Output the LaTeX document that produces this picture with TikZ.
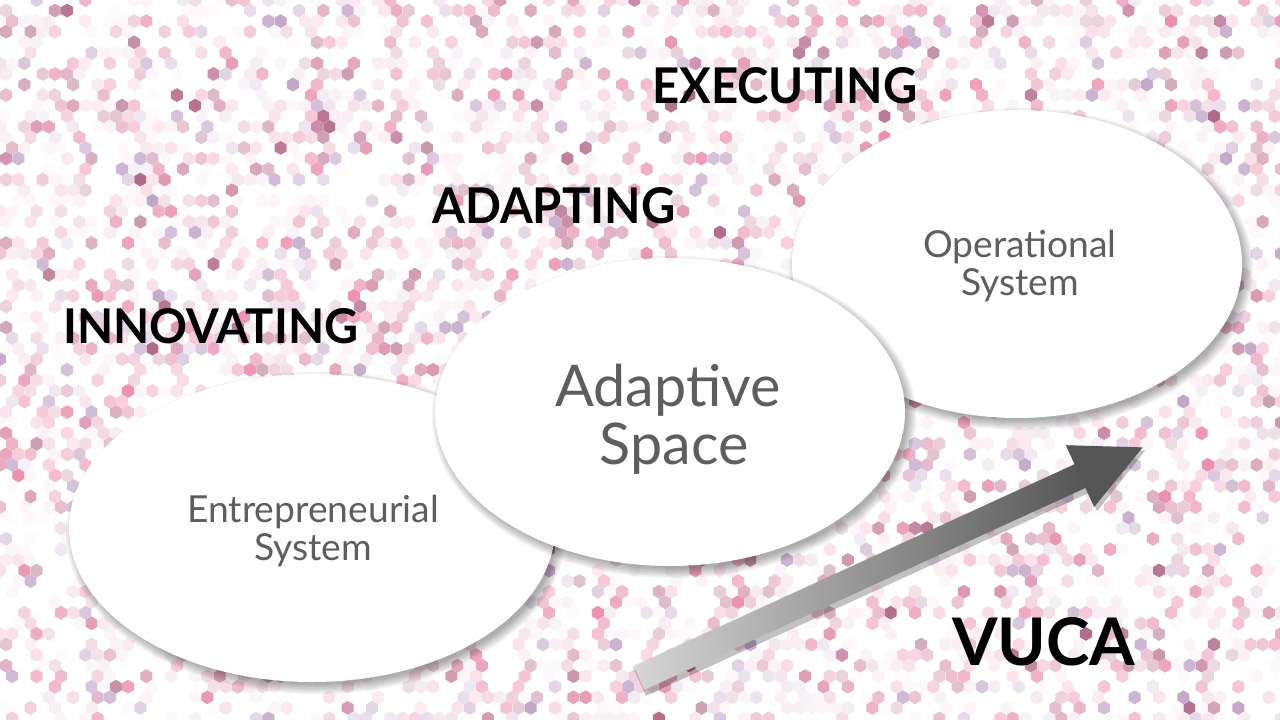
\documentclass[tikz,border=0pt]{standalone}
\usepackage{fontspec}
\setmainfont{Lato}
\usepackage{graphicx}
\definecolor{hc1}{HTML}{EC7FA2}
\definecolor{hc2}{HTML}{D98BA8}
\definecolor{hc3}{HTML}{C77B9B}
\definecolor{hc4}{HTML}{C3A7CB}
\definecolor{hc5}{HTML}{B99ABF}
\definecolor{hc6}{HTML}{F0A5BE}
\definecolor{hc7}{HTML}{E48BAA}
\definecolor{hc8}{HTML}{A85578}
\definecolor{hc9}{HTML}{EE90AE}
\definecolor{hc10}{HTML}{E9B3C6}
\definecolor{txtgray}{HTML}{5E5E5E}
\definecolor{arrowdark}{HTML}{555555}
\definecolor{arrowlight}{HTML}{D6D6D6}
\tikzset{
  bubble/.style={fill=white},
  bubbleshade/.style={fill=black, opacity=0.05},
  titletext/.style={inner sep=0pt, anchor=base west, text=black, font=\bfseries},
  bubbletext/.style={inner sep=0pt, anchor=base, text=txtgray},
}
\begin{document}
\begin{tikzpicture}[x=1pt,y=-1pt]
\useasboundingbox (0,0) rectangle (1280,720);
\fill[white] (0,0) rectangle (1280,720);
% hexagon background
\begin{scope}
\clip (0,0) rectangle (1280,720);
\pgfmathsetseed{42}
\foreach \r in {0,...,69}{
  \foreach \c in {0,...,105}{
    \pgfmathsetmacro\p{rnd}
    \ifdim\p pt<0.5pt
      \pgfmathsetmacro\hx{\c*12.2+mod(\r,2)*6.1}
      \pgfmathsetmacro\hy{\r*10.565}
      \pgfmathrandominteger{\ci}{1}{10}
      \pgfmathsetmacro\pc{int(5+85*rnd^2)}
      \edef\hcol{hc\ci!\pc!white}
      \fill[fill=\hcol] (\hx,\hy) +(30:6.9) -- +(90:6.9) -- +(150:6.9) -- +(210:6.9) -- +(270:6.9) -- +(330:6.9) -- cycle;
    \fi
  }
}
\end{scope}
% Entrepreneurial ellipse
\foreach \k in {0,...,6}{
  \fill[bubbleshade] (316,533) ellipse ({243+7-\k*1.6} and {154+7-\k*1.6});
}
\fill[bubble] (312,528) ellipse (243 and 154);
% Operational ellipse
\foreach \k in {0,...,6}{
  \fill[bubbleshade] (1021,269) ellipse ({225+7-\k*1.6} and {154+7-\k*1.6});
}
\fill[bubble] (1017,264) ellipse (225 and 154);
% Adaptive ellipse
\foreach \k in {0,...,6}{
  \fill[bubbleshade] (674,417) ellipse ({235+7-\k*1.6} and {154+7-\k*1.6});
}
\fill[bubble] (670,412) ellipse (235 and 154);
% arrow
\begin{scope}[shift={(639,678)}, rotate=24.6]
  \foreach \k in {0,...,4}{
    \fill[black, opacity=0.05] (-1,{-13+4-\k*1.2}) -- (486,{-13+4-\k*1.2}) -- (486,{-34+4-\k*1.2}) -- ({556-\k*0.5},{4}) -- (486,{34+5}) -- (486,{13+6}) -- (-1,{13+6}) -- cycle;
  }
  \shade[left color=arrowlight, right color=arrowdark] (0,-13) rectangle (487,13);
  \fill[arrowdark] (485,-34) -- (554,0) -- (485,34) -- cycle;
\end{scope}
% titles
\node[titletext] (exec) at (652,103) {\resizebox{265pt}{36pt}{EXECUTING}};
\node[titletext] (adapt) at (432,223) {\resizebox{243pt}{36pt}{ADAPTING}};
\node[titletext] (innov) at (63,343) {\resizebox{295pt}{35pt}{INNOVATING}};
\node[titletext] (vuca) at (952,665) {\resizebox{183pt}{48pt}{VUCA}};
% bubble texts
\node[bubbletext, font=\fontsize{37.2pt}{37pt}\selectfont] (op1) at (1020,257) {Operational};
\node[bubbletext, font=\fontsize{37.2pt}{37pt}\selectfont] (op2) at (1020,295) {System};
\node[bubbletext, font=\fontsize{57.5pt}{57pt}\selectfont] (ad1) at (668,406) {Adaptive};
\node[bubbletext, font=\fontsize{57.5pt}{57pt}\selectfont] (ad2) at (674,464) {Space};
\node[bubbletext, font=\fontsize{37.2pt}{37pt}\selectfont] (en1) at (313,522) {Entrepreneurial};
\node[bubbletext, font=\fontsize{37.2pt}{37pt}\selectfont] (en2) at (313,560) {System};
\end{tikzpicture}
\end{document}
